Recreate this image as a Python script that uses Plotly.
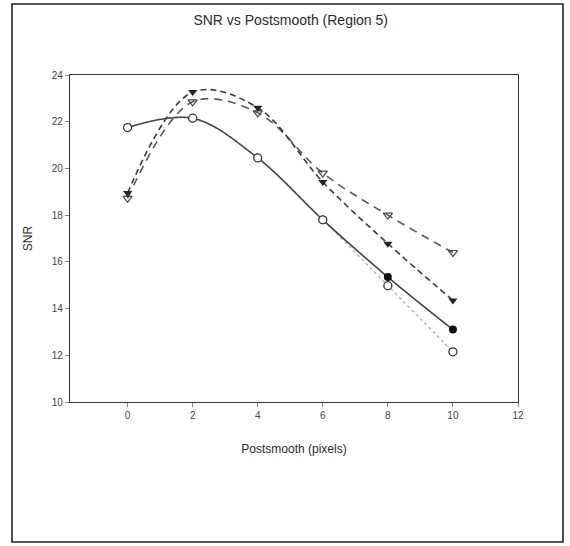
import plotly.graph_objects as go

x_vals = [0, 2, 4, 6, 8, 10]
snr_filled_circle = [21.75, 22.15, 20.45, 17.8, 15.35, 13.1]
snr_open_circle = [21.75, 22.15, 20.45, 17.8, 14.98, 12.15]
snr_filled_tri = [18.95, 23.27, 22.6, 19.42, 16.78, 14.35]
snr_open_tri = [18.72, 22.85, 22.38, 19.8, 18.0, 16.4]

x_ticks = [0, 2, 4, 6, 8, 10, 12]
y_ticks = [10, 12, 14, 16, 18, 20, 22, 24]

FONT = "Liberation Sans, Arial, sans-serif"
TXT = "#2a2a2a"

fig = go.Figure()

fig.add_trace(go.Scatter(
    x=x_vals, y=snr_open_tri, mode="lines+markers",
    line=dict(color="#5a5a5a", width=1.6, dash="8px,6px", shape="spline"),
    marker=dict(symbol="triangle-down-open", size=8, color="#444", line=dict(width=1.2)),
    name="open triangle"))
fig.add_trace(go.Scatter(
    x=x_vals, y=snr_filled_tri, mode="lines+markers",
    line=dict(color="#3a3a3a", width=1.6, dash="6px,4px", shape="spline"),
    marker=dict(symbol="triangle-down", size=8, color="#222"),
    name="filled triangle"))
fig.add_trace(go.Scatter(
    x=x_vals, y=snr_open_circle, mode="lines",
    line=dict(color="#b0b0b0", width=1.4, dash="dot", shape="spline"),
    name="open circle line"))
fig.add_trace(go.Scatter(
    x=x_vals, y=snr_filled_circle, mode="lines+markers",
    line=dict(color="#444", width=1.6, shape="spline"),
    marker=dict(symbol="circle", size=8, color="#111"),
    name="filled circle"))
fig.add_trace(go.Scatter(
    x=x_vals, y=snr_open_circle, mode="markers",
    marker=dict(symbol="circle", size=8, color="white", line=dict(color="#333", width=1.3)),
    name="open circle"))

fig.update_layout(
    width=570, height=546,
    margin=dict(l=70, r=52, t=75, b=144),
    paper_bgcolor="white", plot_bgcolor="white",
    showlegend=False,
    font=dict(family=FONT, color=TXT),
    title=dict(text="SNR vs Postsmooth (Region 5)", x=0.51, xanchor="center",
               y=1 - 20 / 546, yanchor="middle", font=dict(size=14, color=TXT)),
    xaxis=dict(range=[-1.77, 12], tickvals=x_ticks, showgrid=False, zeroline=False,
               showline=True, linecolor="#333", linewidth=1.3, mirror=True,
               ticks="outside", ticklen=4, tickcolor="#888",
               tickfont=dict(size=10, color="#444"),
               title=dict(text="Postsmooth (pixels)", font=dict(size=12, color=TXT), standoff=24)),
    yaxis=dict(range=[10, 24], tickvals=y_ticks, showgrid=False, zeroline=False,
               showline=True, linecolor="#333", linewidth=1.3, mirror=True,
               ticks="outside", ticklen=4, tickcolor="#888",
               tickfont=dict(size=10, color="#444"),
               title=dict(text="SNR", font=dict(size=12, color=TXT), standoff=16)),
    shapes=[dict(type="rect", xref="paper", yref="paper",
                 x0=-0.1295, x1=1.1004, y0=-0.428, y1=1.2171,
                 line=dict(color="#222", width=1.6), fillcolor="rgba(0,0,0,0)")],
)

fig.write_html("out.html")
